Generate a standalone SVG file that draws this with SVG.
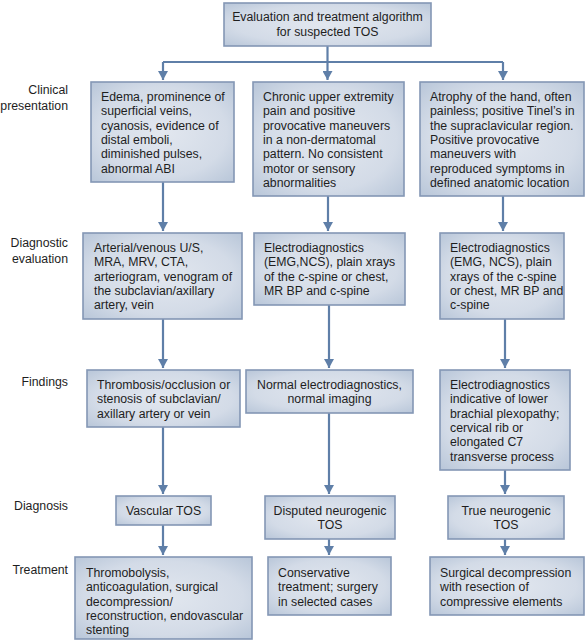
<svg xmlns="http://www.w3.org/2000/svg" width="586" height="641" viewBox="0 0 586 641">
<defs>
<radialGradient id="g" cx="50%" cy="50%" r="75%">
<stop offset="0" stop-color="#e2e7ef"/>
<stop offset="0.6" stop-color="#d3dbe7"/>
<stop offset="1" stop-color="#b3c2d6"/>
</radialGradient>
<marker id="ah" markerUnits="userSpaceOnUse" markerWidth="9" markerHeight="10" refX="9" refY="5" orient="auto">
<path d="M0,0 L9,5 L0,10 z" fill="#5f7fa8"/>
</marker>
</defs>
<style>
.b{fill:url(#g);stroke:#8497b5;stroke-width:1.6}
text{font-family:"Liberation Sans",Arial,sans-serif;font-size:12.3px;fill:#1e1e1e}
.c{text-anchor:middle}
.lab{text-anchor:end}
.cn{fill:none;stroke:#5f7fa8;stroke-width:2.2}
</style>
<rect width="586" height="641" fill="#ffffff"/>

<g id="labels">
<text class="lab" x="68" y="94">Clinical<tspan x="68" dy="16">presentation</tspan></text>
<text class="lab" x="68" y="247">Diagnostic<tspan x="68" dy="16">evaluation</tspan></text>
<text class="lab" x="68" y="386">Findings</text>
<text class="lab" x="68" y="510">Diagnosis</text>
<text class="lab" x="68" y="574">Treatment</text>
</g>

<g id="connectors">
<path class="cn" d="M327.5,46 V80" marker-end="url(#ah)"/>
<path class="cn" d="M163,62 H503"/>
<path class="cn" d="M163,62 V80" marker-end="url(#ah)"/>
<path class="cn" d="M503,62 V80" marker-end="url(#ah)"/>
<path class="cn" d="M163,182 V231" marker-end="url(#ah)"/>
<path class="cn" d="M328,196 V231" marker-end="url(#ah)"/>
<path class="cn" d="M503,196 V231" marker-end="url(#ah)"/>
<path class="cn" d="M163,319 V368" marker-end="url(#ah)"/>
<path class="cn" d="M329,305 V368" marker-end="url(#ah)"/>
<path class="cn" d="M505,319 V368" marker-end="url(#ah)"/>
<path class="cn" d="M163,427 V494" marker-end="url(#ah)"/>
<path class="cn" d="M329,413 V494" marker-end="url(#ah)"/>
<path class="cn" d="M505,470 V494" marker-end="url(#ah)"/>
<path class="cn" d="M163,525 V555" marker-end="url(#ah)"/>
<path class="cn" d="M329,539 V555" marker-end="url(#ah)"/>
<path class="cn" d="M505,539 V555" marker-end="url(#ah)"/>
</g>

<g id="top">
<rect class="b" x="224" y="3" width="207" height="43"/>
<text class="c" x="327.5" y="21">Evaluation and treatment algorithm<tspan x="327.5" dy="15">for suspected TOS</tspan></text>
</g>

<g id="clin-vascular">
<rect class="b" x="91" y="82" width="143" height="100"/>
<text x="101" y="101">Edema, prominence of<tspan x="101" dy="14.3">superficial veins,</tspan><tspan x="101" dy="14.3">cyanosis, evidence of</tspan><tspan x="101" dy="14.3">distal emboli,</tspan><tspan x="101" dy="14.3">diminished pulses,</tspan><tspan x="101" dy="14.3">abnormal ABI</tspan></text>
</g>
<g id="clin-disputed">
<rect class="b" x="253" y="82" width="151" height="114"/>
<text x="263" y="101">Chronic upper extremity<tspan x="263" dy="14.3">pain and positive</tspan><tspan x="263" dy="14.3">provocative maneuvers</tspan><tspan x="263" dy="14.3">in a non-dermatomal</tspan><tspan x="263" dy="14.3">pattern. No consistent</tspan><tspan x="263" dy="14.3">motor or sensory</tspan><tspan x="263" dy="14.3">abnormalities</tspan></text>
</g>
<g id="clin-true">
<rect class="b" x="420" y="82" width="164" height="114"/>
<text x="430" y="101">Atrophy of the hand, often<tspan x="430" dy="14.3">painless; positive Tinel’s in</tspan><tspan x="430" dy="14.3">the supraclavicular region.</tspan><tspan x="430" dy="14.3">Positive provocative</tspan><tspan x="430" dy="14.3">maneuvers with</tspan><tspan x="430" dy="14.3">reproduced symptoms in</tspan><tspan x="430" dy="14.3">defined anatomic location</tspan></text>
</g>

<g id="diag-vascular">
<rect class="b" x="83" y="233" width="159" height="86"/>
<text x="94" y="252">Arterial/venous U/S,<tspan x="94" dy="14.3">MRA, MRV, CTA,</tspan><tspan x="94" dy="14.3">arteriogram, venogram of</tspan><tspan x="94" dy="14.3">the subclavian/axillary</tspan><tspan x="94" dy="14.3">artery, vein</tspan></text>
</g>
<g id="diag-disputed">
<rect class="b" x="254" y="233" width="151" height="72"/>
<text x="264" y="252">Electrodiagnostics<tspan x="264" dy="14.3">(EMG,NCS), plain xrays</tspan><tspan x="264" dy="14.3">of the c-spine or chest,</tspan><tspan x="264" dy="14.3">MR BP and c-spine</tspan></text>
</g>
<g id="diag-true">
<rect class="b" x="440" y="233" width="124" height="86"/>
<text x="450" y="252">Electrodiagnostics<tspan x="450" dy="14.3">(EMG, NCS), plain</tspan><tspan x="450" dy="14.3">xrays of the c-spine</tspan><tspan x="450" dy="14.3">or chest, MR BP and</tspan><tspan x="450" dy="14.3">c-spine</tspan></text>
</g>

<g id="find-vascular">
<rect class="b" x="87" y="370" width="153" height="57"/>
<text x="97" y="389">Thrombosis/occlusion or<tspan x="97" dy="14.3">stenosis of subclavian/</tspan><tspan x="97" dy="14.3">axillary artery or vein</tspan></text>
</g>
<g id="find-disputed">
<rect class="b" x="246" y="370" width="167" height="43"/>
<text class="c" x="329.5" y="389">Normal electrodiagnostics,<tspan x="329.5" dy="14.3">normal imaging</tspan></text>
</g>
<g id="find-true">
<rect class="b" x="440" y="370" width="130" height="100"/>
<text x="450" y="389">Electrodiagnostics<tspan x="450" dy="14.3">indicative of lower</tspan><tspan x="450" dy="14.3">brachial plexopathy;</tspan><tspan x="450" dy="14.3">cervical rib or</tspan><tspan x="450" dy="14.3">elongated C7</tspan><tspan x="450" dy="14.3">transverse process</tspan></text>
</g>

<g id="dx-vascular">
<rect class="b" x="116" y="496" width="95" height="29"/>
<text class="c" x="163.5" y="515">Vascular TOS</text>
</g>
<g id="dx-disputed">
<rect class="b" x="265" y="496" width="130" height="43"/>
<text class="c" x="330" y="515">Disputed neurogenic<tspan x="330" dy="14.3">TOS</tspan></text>
</g>
<g id="dx-true">
<rect class="b" x="448" y="496" width="116" height="43"/>
<text class="c" x="506" y="515">True neurogenic<tspan x="506" dy="14.3">TOS</tspan></text>
</g>

<g id="tx-vascular">
<rect class="b" x="75" y="557" width="177" height="82"/>
<text x="86" y="577">Thromobolysis,<tspan x="86" dy="14.3">anticoagulation, surgical</tspan><tspan x="86" dy="14.3">decompression/</tspan><tspan x="86" dy="14.3">reconstruction, endovascular</tspan><tspan x="86" dy="14.3">stenting</tspan></text>
</g>
<g id="tx-disputed">
<rect class="b" x="268" y="557" width="123" height="58"/>
<text x="278" y="577">Conservative<tspan x="278" dy="14.3">treatment; surgery</tspan><tspan x="278" dy="14.3">in selected cases</tspan></text>
</g>
<g id="tx-true">
<rect class="b" x="430" y="557" width="154" height="58"/>
<text x="440" y="577">Surgical decompression<tspan x="440" dy="14.3">with resection of</tspan><tspan x="440" dy="14.3">compressive elements</tspan></text>
</g>
</svg>
